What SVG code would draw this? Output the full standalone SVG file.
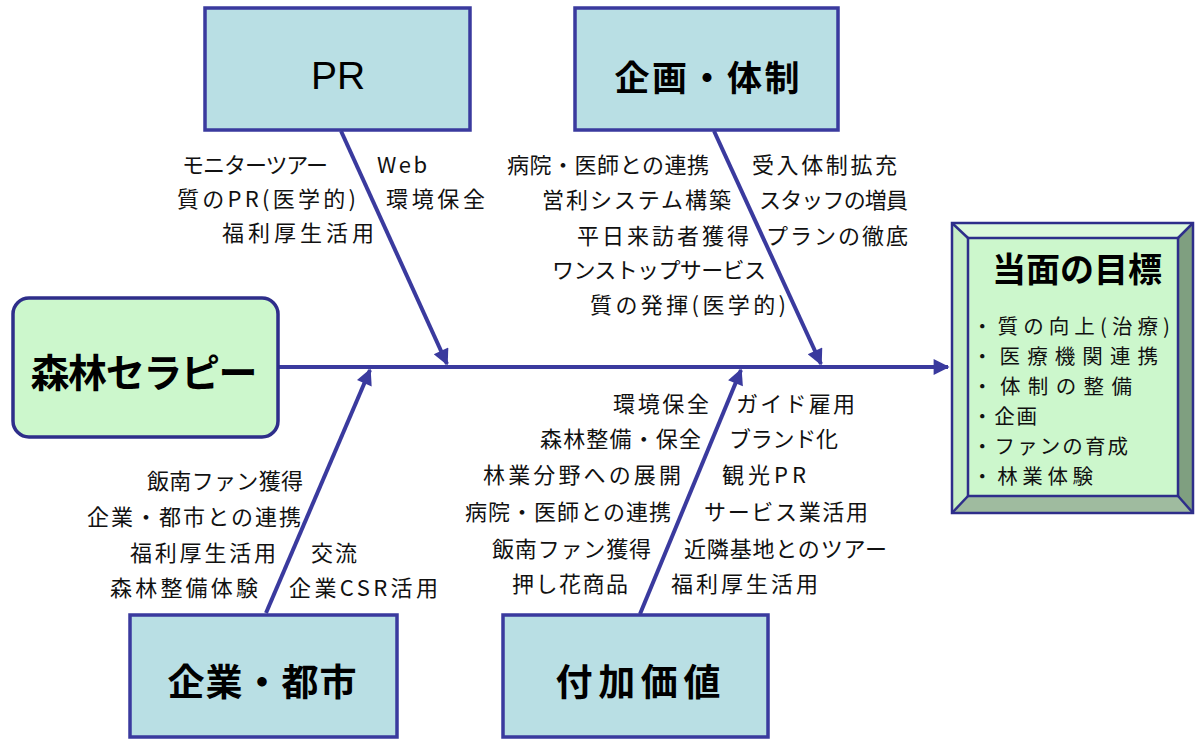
<svg xmlns="http://www.w3.org/2000/svg" width="1199" height="740" viewBox="0 0 1199 740">
<defs>
<style>
.box{fill:#b9dfe4;stroke:#3a3a9e;stroke-width:3.5}
.green{fill:#ccf7cc;stroke:#2e2e8a;stroke-width:3.5}
.bone{stroke:#3a3a9e;stroke-width:4;fill:none}
.lbl{font-family:"Noto Sans CJK JP","Liberation Sans",sans-serif;font-size:22px;fill:#111}
.l{text-anchor:end}
.ttl{font-family:"Liberation Sans","Noto Sans CJK JP",sans-serif;text-anchor:middle;fill:#000}
.b{font-weight:bold;font-family:"Noto Sans CJK JP",sans-serif}
.item{font-family:"Noto Sans CJK JP",sans-serif;font-size:20.5px;fill:#111}
</style>
<marker id="ah" viewBox="0 0 10 10" refX="9" refY="5" markerWidth="4.5" markerHeight="4" orient="auto" markerUnits="strokeWidth">
<path d="M0,0 L10,5 L0,10 z" fill="#3a3a9e"/>
</marker>
</defs>
<rect width="1199" height="740" fill="#ffffff"/>
<g id="connectors">
<line class="bone" x1="278" y1="367" x2="948" y2="367" marker-end="url(#ah)"/>
<line class="bone" x1="341" y1="131" x2="447" y2="364" marker-end="url(#ah)"/>
<line class="bone" x1="714" y1="131" x2="821" y2="364" marker-end="url(#ah)"/>
<line class="bone" x1="266" y1="613" x2="370" y2="370" marker-end="url(#ah)"/>
<line class="bone" x1="640" y1="614" x2="741" y2="370" marker-end="url(#ah)"/>
</g>
<g id="node-pr">
<rect class="box" x="205" y="8" width="265" height="122"/>
<text class="ttl" x="338" y="89" font-size="39">PR</text>
</g>
<g id="node-kikaku">
<rect class="box" x="575" y="8" width="263" height="122"/>
<text class="ttl b" x="707" y="91" font-size="35" textLength="185">企画・体制</text>
</g>
<g id="node-kigyo">
<rect class="box" x="130" y="615" width="267" height="122"/>
<text class="ttl b" x="262" y="696" font-size="37" textLength="189">企業・都市</text>
</g>
<g id="node-fuka">
<rect class="box" x="503" y="615" width="265" height="122"/>
<text class="ttl b" x="638" y="696" font-size="37" textLength="165">付加価値</text>
</g>
<g id="node-shinrin">
<rect class="green" x="13" y="298" width="265" height="139" rx="16" ry="16"/>
<text class="ttl b" x="144" y="387" font-size="39" textLength="227">森林セラピー</text>
</g>
<g id="node-goal">
<rect x="952" y="223" width="241" height="290" fill="#ccf7cc"/>
<polygon points="952,223 1193,223 1178,238 968,238" fill="#dcf9dc"/>
<polygon points="952,223 968,238 968,496 952,513" fill="#c6efc6"/>
<polygon points="1193,223 1193,513 1178,496 1178,238" fill="#7f9f80"/>
<polygon points="952,513 1193,513 1178,496 968,496" fill="#9fbb9f"/>
<g stroke="#2e2e8a" stroke-width="2.5" fill="none">
<rect x="952" y="223" width="241" height="290"/>
<rect x="968" y="238" width="210" height="258"/>
<line x1="952" y1="223" x2="968" y2="238"/>
<line x1="1193" y1="223" x2="1178" y2="238"/>
<line x1="952" y1="513" x2="968" y2="496"/>
<line x1="1193" y1="513" x2="1178" y2="496"/>
</g>
<text class="ttl b" x="1077" y="282" font-size="34" textLength="170">当面の目標</text>
<text class="item" x="972" y="334" textLength="198">・質の向上(治療)</text>
<text class="item" x="972" y="364" textLength="186">・医療機関連携</text>
<text class="item" x="972" y="394" textLength="160">・体制の整備</text>
<text class="item" x="972" y="424" textLength="65">・企画</text>
<text class="item" x="972" y="454" textLength="156">・ファンの育成</text>
<text class="item" x="972" y="484" textLength="121">・林業体験</text>
</g>
<g id="labels-pr">
<text class="lbl l" x="328" y="173" textLength="146">モニターツアー</text>
<text class="lbl l" x="356" y="207" textLength="179">質のPR(医学的)</text>
<text class="lbl l" x="374" y="241" textLength="152">福利厚生活用</text>
<text class="lbl" x="377" y="173" textLength="50">Web</text>
<text class="lbl" x="386" y="207" textLength="99">環境保全</text>
</g>
<g id="labels-kikaku">
<text class="lbl l" x="709" y="173" textLength="202">病院・医師との連携</text>
<text class="lbl l" x="731" y="208" textLength="189">営利システム構築</text>
<text class="lbl l" x="749" y="244" textLength="172">平日来訪者獲得</text>
<text class="lbl l" x="766" y="278" textLength="214">ワンストップサービス</text>
<text class="lbl l" x="786" y="313" textLength="196">質の発揮(医学的)</text>
<text class="lbl" x="752" y="173" textLength="145">受入体制拡充</text>
<text class="lbl" x="759" y="208" textLength="149">スタッフの増員</text>
<text class="lbl" x="766" y="244" textLength="142">プランの徹底</text>
</g>
<g id="labels-kigyo">
<text class="lbl l" x="303" y="489" textLength="156">飯南ファン獲得</text>
<text class="lbl l" x="301" y="525" textLength="214">企業・都市との連携</text>
<text class="lbl l" x="276" y="561" textLength="146">福利厚生活用</text>
<text class="lbl l" x="258" y="596" textLength="148">森林整備体験</text>
<text class="lbl" x="311" y="561" textLength="46">交流</text>
<text class="lbl" x="289" y="596" textLength="149">企業CSR活用</text>
</g>
<g id="labels-fuka">
<text class="lbl l" x="709" y="412" textLength="96">環境保全</text>
<text class="lbl l" x="701" y="447" textLength="161">森林整備・保全</text>
<text class="lbl l" x="681" y="483" textLength="198">林業分野への展開</text>
<text class="lbl l" x="671" y="520" textLength="206">病院・医師との連携</text>
<text class="lbl l" x="651" y="557" textLength="159">飯南ファン獲得</text>
<text class="lbl l" x="628" y="592" textLength="116">押し花商品</text>
<text class="lbl" x="736" y="412" textLength="119">ガイド雇用</text>
<text class="lbl" x="729" y="447" textLength="109">ブランド化</text>
<text class="lbl" x="722" y="483" textLength="84">観光PR</text>
<text class="lbl" x="704" y="520" textLength="164">サービス業活用</text>
<text class="lbl" x="684" y="557" textLength="203">近隣基地とのツアー</text>
<text class="lbl" x="671" y="592" textLength="147">福利厚生活用</text>
</g>
</svg>
